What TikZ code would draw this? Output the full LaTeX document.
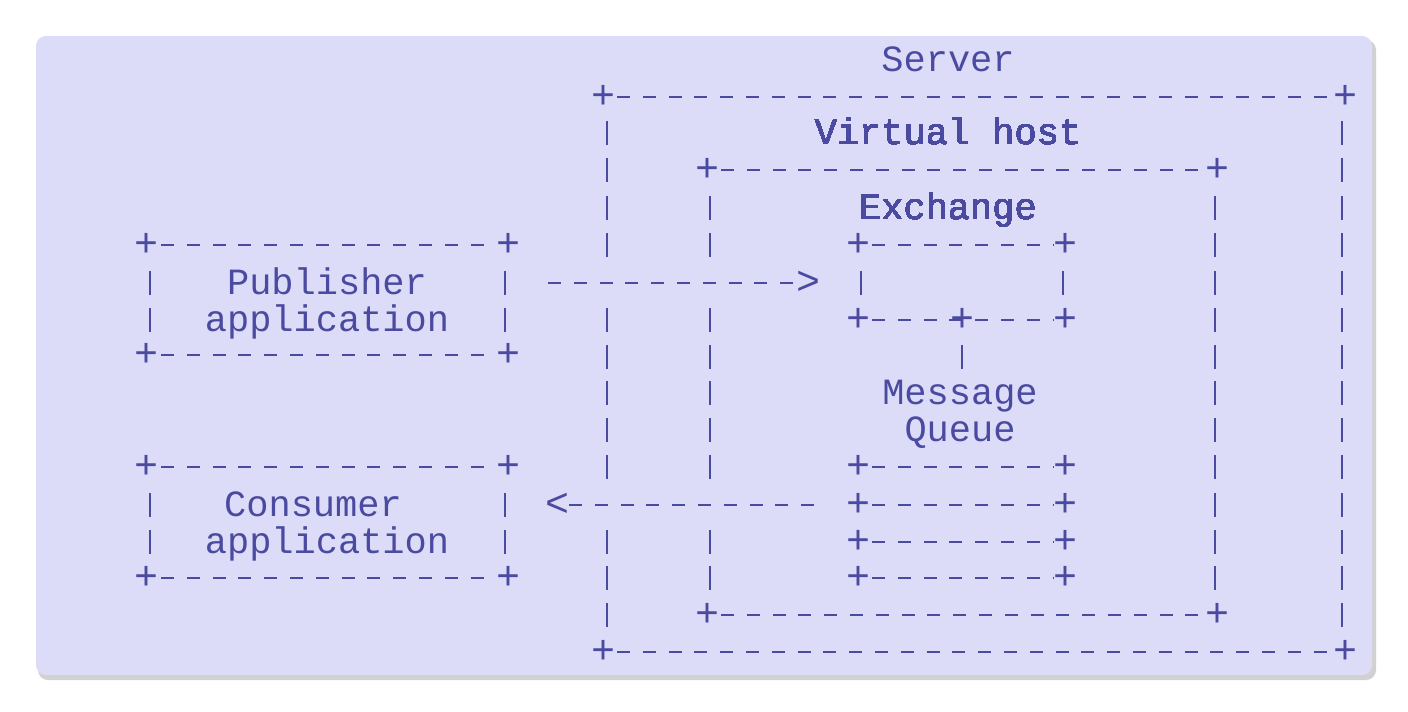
\documentclass[tikz,border=0pt]{standalone}
\usepackage{fontspec}
\setmonofont{Liberation Mono}
\begin{document}
\begin{tikzpicture}[x=1pt,y=-1pt,
  txt/.style={text=ink,font=\ttfamily\fontsize{40}{44}\selectfont,inner sep=0pt,anchor=center},
  wd/.style={text=ink,font=\ttfamily\fontsize{37}{40}\selectfont,inner sep=0pt,anchor=base,yshift=-11pt},
  dl/.style={ink,line width=2.2pt,dash pattern=on 13pt off 12.8pt},
  bar/.style={ink,line width=2.2pt}]
\definecolor{ink}{HTML}{4A4AA0}
\definecolor{bg}{HTML}{DCDCF8}
\useasboundingbox (0,0) rectangle (1408,712);
\fill[white] (0,0) rectangle (1408,712);
\fill[black!18,rounded corners=10pt] (38,40) rectangle (1376,680);
\fill[bg,rounded corners=10pt] (36,36) rectangle (1372,675);
\newcommand\hedge[4]{%
  \node[txt] (#1a) at (#2,#4) {+};
  \node[txt] (#1b) at (#3,#4) {+};
  \draw[dl] ([xshift=14pt]#1a.center) -- ([xshift=-12pt]#1b.center);}
\newcommand\vbar[2]{\draw[bar] (#1,#2-12) -- (#1,#2+12);}
\node[wd] (srv) at (948,60) {Server};
\hedge{st}{603}{1345}{97}
\hedge{sb}{603}{1345}{652}
\foreach \y in {133,170,208,245,320,357,393,430,467,542,578,615} \vbar{607}{\y}
\foreach \y in {133,170,208,245,283,320,357,393,430,467,505,542,578,615} \vbar{1342}{\y}
\node[wd] (vh) at (948,133) {Virtual host};
\hedge{vt}{707}{1217}{170}
\hedge{vb}{707}{1217}{615}
\foreach \y in {208,245,320,357,393,430,467,542,578} \vbar{710}{\y}
\foreach \y in {208,245,283,320,357,393,430,467,505,542,578} \vbar{1215}{\y}
\node[wd] (ex) at (948,208) {Exchange};
\hedge{et}{858}{1065}{245}
\hedge{eb}{858}{1065}{320}
\node[txt] (em) at (962,320) {+};
\vbar{861}{283}\vbar{1063}{283}
\vbar{962}{357}
\node[wd] (mq1) at (960,393) {Message};
\node[wd] (mq2) at (960,430) {Queue};
\hedge{q1}{858}{1065}{467}
\hedge{q2}{858}{1065}{505}
\hedge{q3}{858}{1065}{542}
\hedge{q4}{858}{1065}{578}
\hedge{pt}{147}{508}{245}
\hedge{pb}{147}{508}{355}
\vbar{150}{283}\vbar{150}{320}\vbar{505}{283}\vbar{505}{320}
\node[wd] (pub1) at (327,283) {Publisher};
\node[wd] (pub2) at (327,320) {application};
\hedge{ct}{147}{508}{467}
\hedge{cb}{147}{508}{578}
\vbar{150}{505}\vbar{150}{542}\vbar{505}{505}\vbar{505}{542}
\node[wd] (con1) at (313,505) {Consumer};
\node[wd] (con2) at (327,542) {application};
\node[txt] (pa) at (808,283) {>};
\coordinate (ps) at (548,283);
\draw[dl] (ps) -- ([xshift=-10pt]pa.center);
\node[txt] (ca) at (557,505) {<};
\coordinate (ce) at (820,505);
\draw[dl] ([xshift=12pt]ca.center) -- (ce);
\end{tikzpicture}
\end{document}
